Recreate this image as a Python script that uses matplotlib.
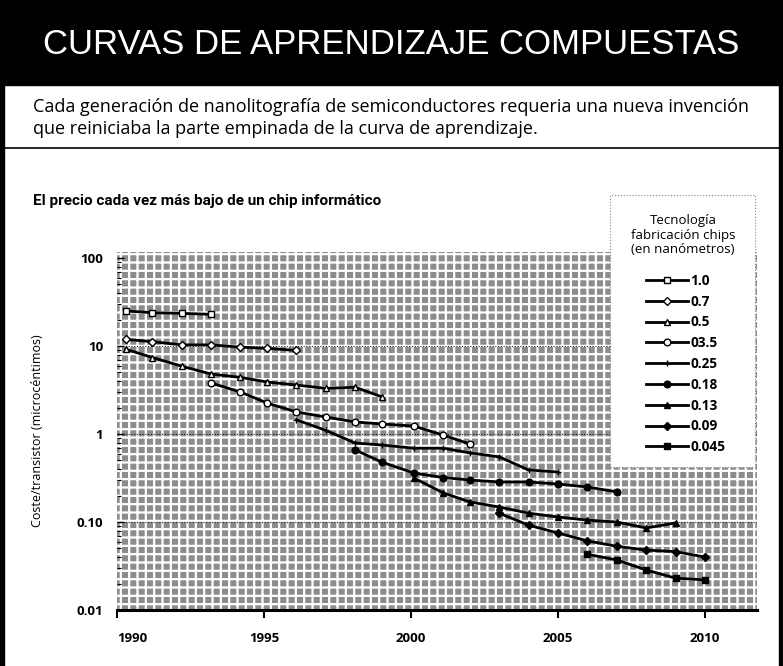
import numpy as np
import matplotlib
matplotlib.use("Agg")
import matplotlib.pyplot as plt
from matplotlib.patches import Rectangle
from matplotlib.lines import Line2D

# ---------------- Data ----------------
# x positions (years), y = cost per transistor (microcents)
yrs_100 = [1990.3, 1991.2, 1992.2, 1993.2]
cost_100 = [25.0, 23.9, 23.5, 22.9]

yrs_070 = [1990.3, 1991.2, 1992.2, 1993.2, 1994.2, 1995.1, 1996.1]
cost_070 = [11.9, 11.2, 10.3, 10.3, 9.7, 9.4, 8.9]

yrs_050 = [1990.3, 1991.2, 1992.2, 1993.2, 1994.2, 1995.1, 1996.1, 1997.1, 1998.1, 1999.0]
cost_050 = [9.2, 7.4, 5.9, 4.8, 4.4, 3.9, 3.6, 3.3, 3.4, 2.65]

yrs_035 = [1993.2, 1994.2, 1995.1, 1996.1, 1997.1, 1998.1, 1999.0, 2000.1, 2001.1, 2002.0]
cost_035 = [3.8, 3.0, 2.25, 1.78, 1.56, 1.37, 1.30, 1.23, 0.97, 0.77]

yrs_025 = [1996.1, 1997.1, 1998.1, 1999.0, 2000.1, 2001.1, 2002.0, 2003.0, 2004.0, 2005.0]
cost_025 = [1.45, 1.1, 0.79, 0.75, 0.69, 0.69, 0.61, 0.55, 0.39, 0.37]

yrs_018 = [1998.1, 1999.0, 2000.1, 2001.1, 2002.0, 2003.0, 2004.0, 2005.0, 2006.0, 2007.0]
cost_018 = [0.66, 0.48, 0.36, 0.32, 0.30, 0.285, 0.285, 0.27, 0.25, 0.22]

yrs_013 = [2000.1, 2001.1, 2002.0, 2003.0, 2004.0, 2005.0, 2006.0, 2007.0, 2008.0, 2009.0]
cost_013 = [0.316, 0.214, 0.169, 0.148, 0.126, 0.114, 0.105, 0.10, 0.0855, 0.0975]

yrs_009 = [2003.0, 2004.0, 2005.0, 2006.0, 2007.0, 2008.0, 2009.0, 2010.0]
cost_009 = [0.126, 0.092, 0.075, 0.061, 0.053, 0.048, 0.046, 0.040]

yrs_0045 = [2006.0, 2007.0, 2008.0, 2009.0, 2010.0]
cost_0045 = [0.043, 0.037, 0.0285, 0.023, 0.022]

series_labels = ["1.0", "0.7", "0.5", "03.5", "0.25", "0.18", "0.13", "0.09", "0.045"]
x_ticks = [1990, 1995, 2000, 2005, 2010]
y_ticks = [0.01, 0.1, 1, 10, 100]
y_ticklabels = ["0.01", "0.10", "1", "10", "100"]
dotted_levels = [0.1, 1, 10]

# ---------------- Style ----------------
W, H = 783, 666
BODY = "Open Sans"
plt.rcParams["hatch.color"] = "white"
plt.rcParams["hatch.linewidth"] = 1.6

def fx(x): return x / W
def fy(y): return 1 - y / H

fig = plt.figure(figsize=(W / 100, H / 100), dpi=100, facecolor="white")

# title band + frame
fig.add_artist(Rectangle((0, fy(85)), 1, 85 / H, transform=fig.transFigure, color="black", zorder=1))
fig.add_artist(Rectangle((0, 0), fx(4), 1, transform=fig.transFigure, color="black", zorder=1))
fig.add_artist(Rectangle((fx(779), 0), fx(4), 1, transform=fig.transFigure, color="black", zorder=1))
fig.add_artist(Line2D([0, 1], [fy(148), fy(148)], transform=fig.transFigure, color="black", lw=1.2))

fig.text(0.5, fy(44), "CURVAS DE APRENDIZAJE COMPUESTAS", color="white", ha="center", va="center",
         fontsize=25, family="Liberation Sans")
fig.text(fx(33), fy(107), "Cada generación de nanolitografía de semiconductores requeria una nueva invención",
         ha="left", va="center", fontsize=13, family=BODY)
fig.text(fx(33), fy(129), "que reiniciaba la parte empinada de la curva de aprendizaje.",
         ha="left", va="center", fontsize=13, family=BODY)
fig.text(fx(33), fy(201), "El precio cada vez más bajo de un chip informático",
         ha="left", va="center", fontsize=11, family="Roboto", weight="bold")

# ---------------- Axes ----------------
ax = fig.add_axes([fx(117), fy(610), (757 - 117) / W, (610 - 252) / H])
ax.set_yscale("log")
ax.set_xlim(1990, 2011.77)
ax.set_ylim(0.01, 117)
ax.set_facecolor("white")
ax.add_patch(Rectangle((0, 0), 1, 1, transform=ax.transAxes, facecolor="#8c8c8c",
                       edgecolor="white", lw=0, hatch="++", zorder=0))
for lvl in dotted_levels:
    ax.axhline(lvl, ls=(0, (1, 1.5)), color="#222222", lw=0.8, zorder=1)

for s in ["top", "right", "left"]:
    ax.spines[s].set_visible(False)
ax.spines["bottom"].set_linewidth(2.2)

ax.set_xticks(x_ticks)
ax.set_xticklabels([str(t) for t in x_ticks], fontsize=9.5, weight="bold", family=BODY)
ax.get_xticklabels()[0].set_ha("left")
ax.tick_params(axis="x", direction="out", length=6, width=1.5, pad=10)
ax.set_yticks(y_ticks)
ax.set_yticklabels(y_ticklabels, fontsize=9.5, weight="bold", family=BODY)
ax.tick_params(axis="y", which="major", direction="in", length=5, width=1, pad=10)
ax.tick_params(axis="y", which="minor", direction="in", length=3, width=0.8, labelleft=False)
ax.set_ylabel("Coste/transistor (microcéntimos)", fontsize=9, family=BODY)
ax.yaxis.set_label_coords((44 - 117) / 640, 0.5)

LW, MS = 2.0, 4.8
styles = [
    (yrs_100, cost_100, "s", "white"),
    (yrs_070, cost_070, "D", "white"),
    (yrs_050, cost_050, "^", "white"),
    (yrs_035, cost_035, "o", "white"),
    (yrs_025, cost_025, "+", "black"),
    (yrs_018, cost_018, "o", "black"),
    (yrs_013, cost_013, "^", "black"),
    (yrs_009, cost_009, "D", "black"),
    (yrs_0045, cost_0045, "s", "black"),
]
handles = []
for (xs, ys, mk, fc), lab in zip(styles, series_labels):
    ms = MS * 0.8 if mk == "D" else MS
    h, = ax.plot(xs, ys, color="black", lw=LW, marker=mk, ms=ms, mfc=fc, mec="black",
                 mew=1.0, label=lab, clip_on=False, zorder=3)
    handles.append(h)

# ---------------- Legend box ----------------
fig.add_artist(Rectangle((fx(610), fy(467)), (755 - 610) / W, (467 - 195) / H, transform=fig.transFigure,
                         facecolor="white", edgecolor="#888888", lw=0.8, ls=":", zorder=2))
fig.text(fx(683), fy(235), "Tecnología\nfabricación chips\n(en nanómetros)", ha="center", va="center",
         multialignment="center", fontsize=9.5, family=BODY, linespacing=1.15, zorder=5)
leg = fig.legend(handles=handles, labels=series_labels, loc="upper left",
                 bbox_to_anchor=(fx(639), fy(267)), frameon=False, borderpad=0,
                 handlelength=3.1, handletextpad=0.15, labelspacing=0.5,
                 prop={"family": BODY, "weight": "bold", "size": 9.8})
leg.set_zorder(5)

fig.savefig("out.png", dpi=100, facecolor=fig.get_facecolor())
plt.close(fig)
